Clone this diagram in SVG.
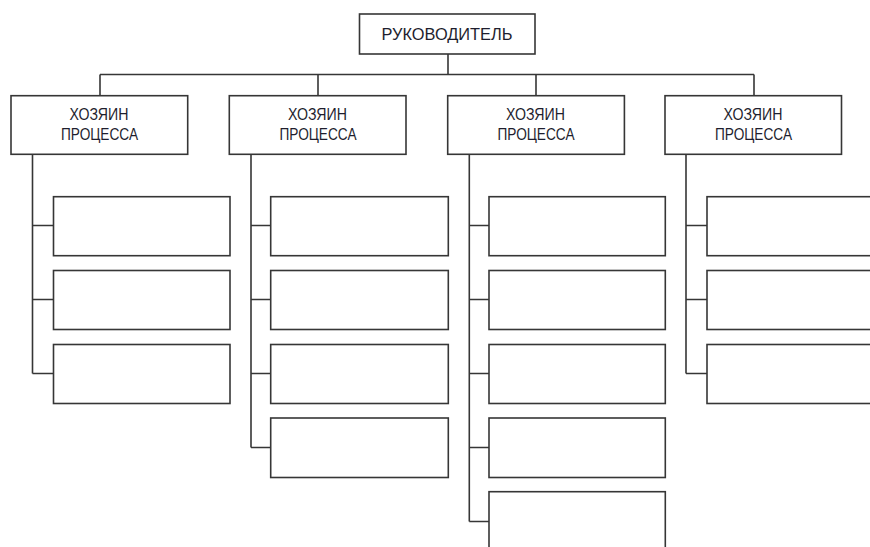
<svg xmlns="http://www.w3.org/2000/svg" width="870" height="547" viewBox="0 0 870 547">
<style>
.box{fill:#fff;stroke:#363636;stroke-width:1.6}
.ln{fill:none;stroke:#363636;stroke-width:1.6}
.t{font-family:"Liberation Sans",Arial,sans-serif;font-size:16px;fill:#1e1e2e;text-anchor:middle}
</style>
<rect width="870" height="547" fill="#fff"/>
<g id="connectors">
<path class="ln" d="M448 54V74.5M100 74.5H754M100 74.5V95.7M318 74.5V95.7M536 74.5V95.7M754 74.5V95.7"/>
<path class="ln" d="M32.5 154.3V373.5M32.5 225.5H53.5M32.5 299.5H53.5M32.5 373.5H53.5"/>
<path class="ln" d="M251 154.3V447.5M251 225.5H270.7M251 299.5H270.7M251 373.5H270.7M251 447.5H270.7"/>
<path class="ln" d="M469.3 154.3V521.5M469.3 225.5H489M469.3 299.5H489M469.3 373.5H489M469.3 447.5H489M469.3 521.5H489"/>
<path class="ln" d="M686 154.3V373.5M686 225.5H707M686 299.5H707M686 373.5H707"/>
</g>
<g id="head"><rect class="box" x="359.5" y="14" width="175.5" height="40"/><text class="t" x="447" y="40" font-size="17" textLength="131" lengthAdjust="spacingAndGlyphs">РУКОВОДИТЕЛЬ</text></g>
<g id="owner1"><rect class="box" x="11" y="95.7" width="176.7" height="58.6"/><text class="t" x="99" y="120" textLength="59" lengthAdjust="spacingAndGlyphs">ХОЗЯИН</text><text class="t" x="99.5" y="140" textLength="77" lengthAdjust="spacingAndGlyphs">ПРОЦЕССА</text></g>
<g id="owner2"><rect class="box" x="229.3" y="95.7" width="176.7" height="58.6"/><text class="t" x="317.5" y="120" textLength="59" lengthAdjust="spacingAndGlyphs">ХОЗЯИН</text><text class="t" x="318" y="140" textLength="77" lengthAdjust="spacingAndGlyphs">ПРОЦЕССА</text></g>
<g id="owner3"><rect class="box" x="447.7" y="95.7" width="176.7" height="58.6"/><text class="t" x="535.5" y="120" textLength="59" lengthAdjust="spacingAndGlyphs">ХОЗЯИН</text><text class="t" x="536" y="140" textLength="77" lengthAdjust="spacingAndGlyphs">ПРОЦЕССА</text></g>
<g id="owner4"><rect class="box" x="665" y="95.7" width="176.5" height="58.6"/><text class="t" x="753" y="120" textLength="59" lengthAdjust="spacingAndGlyphs">ХОЗЯИН</text><text class="t" x="753.5" y="140" textLength="77" lengthAdjust="spacingAndGlyphs">ПРОЦЕССА</text></g>
<g id="c1-1"><rect class="box" x="53.5" y="196.7" width="176.5" height="59"/></g>
<g id="c1-2"><rect class="box" x="53.5" y="270.5" width="176.5" height="59"/></g>
<g id="c1-3"><rect class="box" x="53.5" y="344.5" width="176.5" height="59"/></g>
<g id="c2-1"><rect class="box" x="270.7" y="196.7" width="177.6" height="59"/></g>
<g id="c2-2"><rect class="box" x="270.7" y="270.5" width="177.6" height="59"/></g>
<g id="c2-3"><rect class="box" x="270.7" y="344.5" width="177.6" height="59"/></g>
<g id="c2-4"><rect class="box" x="270.7" y="418" width="177.6" height="59.5"/></g>
<g id="c3-1"><rect class="box" x="489" y="196.7" width="176.3" height="59"/></g>
<g id="c3-2"><rect class="box" x="489" y="270.5" width="176.3" height="59"/></g>
<g id="c3-3"><rect class="box" x="489" y="344.5" width="176.3" height="59"/></g>
<g id="c3-4"><rect class="box" x="489" y="418" width="176.3" height="59.5"/></g>
<g id="c3-5"><rect class="box" x="489" y="491.7" width="176.3" height="70"/></g>
<g id="c4-1"><rect class="box" x="707" y="196.7" width="180" height="59"/></g>
<g id="c4-2"><rect class="box" x="707" y="270.5" width="180" height="59"/></g>
<g id="c4-3"><rect class="box" x="707" y="344.5" width="180" height="59"/></g>
</svg>
